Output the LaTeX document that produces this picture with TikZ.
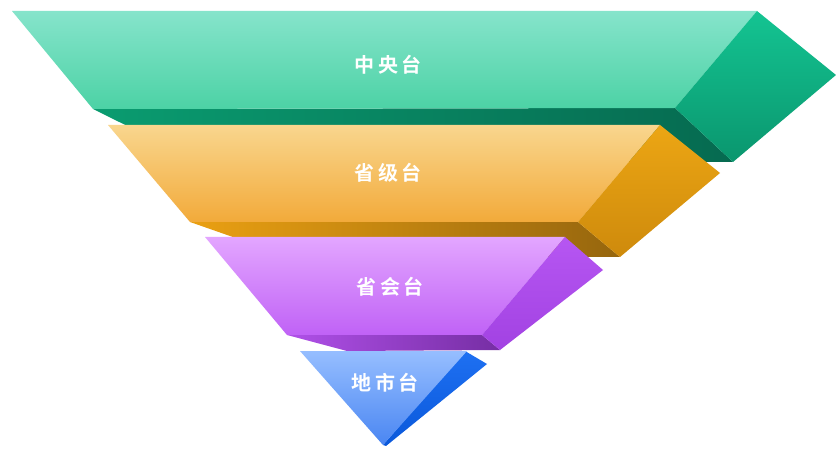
\documentclass[tikz,border=0pt]{standalone}
\usepackage{fontspec}
\newfontfamily\cjk{Noto Sans CJK SC}[BoldFont={Noto Sans CJK SC Bold}]
\definecolor{gStripL}{RGB}{10,156,112}
\definecolor{gStripR}{RGB}{6,106,80}
\definecolor{gTop}{RGB}{134,228,203}
\definecolor{gBot}{RGB}{76,210,165}
\definecolor{gSideT}{RGB}{20,196,146}
\definecolor{gSideB}{RGB}{10,150,110}
\definecolor{oStripL}{RGB}{234,160,18}
\definecolor{oStripR}{RGB}{150,102,14}
\definecolor{oTop}{RGB}{249,214,142}
\definecolor{oBot}{RGB}{242,170,58}
\definecolor{oSideT}{RGB}{236,166,20}
\definecolor{oSideB}{RGB}{206,138,12}
\definecolor{pStripL}{RGB}{176,80,232}
\definecolor{pStripR}{RGB}{118,46,164}
\definecolor{pTop}{RGB}{227,166,255}
\definecolor{pBot}{RGB}{192,98,246}
\definecolor{pSideT}{RGB}{182,86,242}
\definecolor{pSideB}{RGB}{162,66,226}
\definecolor{bSideT}{RGB}{30,112,242}
\definecolor{bSideB}{RGB}{10,88,218}
\definecolor{bTop}{RGB}{150,190,255}
\definecolor{bBot}{RGB}{74,134,242}
\begin{document}
\begin{tikzpicture}[x=1pt,y=-1pt,
  lbl/.style={text=white,font=\cjk\bfseries\fontsize{20}{20}\selectfont,inner sep=0pt}]
\useasboundingbox[fill=white] (0,0) rectangle (836,449);
% ---------- green layer ----------
\shade[left color=gStripL,right color=gStripR]
  (93,109) -- (675,108) -- (733,162) -- (200,162) -- cycle;
\shade[top color=gTop,bottom color=gBot]
  (12,11) -- (757,11) -- (675,108) -- (93,109) -- cycle;
\shade[top color=gSideT,bottom color=gSideB]
  (757,11) -- (836,75) -- (733,162) -- (675,108) -- cycle;
% ---------- orange layer ----------
\shade[left color=oStripL,right color=oStripR]
  (190,222) -- (578,222) -- (620,257) -- (290,257) -- cycle;
\shade[top color=oTop,bottom color=oBot]
  (108,125) -- (660,125) -- (578,222) -- (190,222) -- cycle;
\shade[top color=oSideT,bottom color=oSideB]
  (660,125) -- (720,173) -- (620,257) -- (578,222) -- cycle;
% ---------- purple layer ----------
\shade[left color=pStripL,right color=pStripR]
  (287,335) -- (482,335) -- (500,350) -- (347,351) -- cycle;
\shade[top color=pTop,bottom color=pBot]
  (205,237) -- (565,237) -- (482,335) -- (287,335) -- cycle;
\shade[top color=pSideT,bottom color=pSideB]
  (565,237) -- (603,270) -- (500,350) -- (482,335) -- cycle;
% ---------- blue layer ----------
\shade[top color=bSideT,bottom color=bSideB]
  (465,351) -- (487,364) -- (386,446) -- (383,445) -- cycle;
\shade[top color=bTop,bottom color=bBot]
  (300,351) -- (467,351) -- (383,445) -- cycle;
% ---------- labels ----------
\node[lbl] (l1) at (388,65) {中\kern3.5pt 央\kern3.5pt 台};
\node[lbl] (l2) at (388,173) {省\kern3.5pt 级\kern3.5pt 台};
\node[lbl] (l3) at (390,287) {省\kern3.5pt 会\kern3.5pt 台};
\node[lbl] (l4) at (385,383) {地\kern3.5pt 市\kern3.5pt 台};
\end{tikzpicture}
\end{document}
